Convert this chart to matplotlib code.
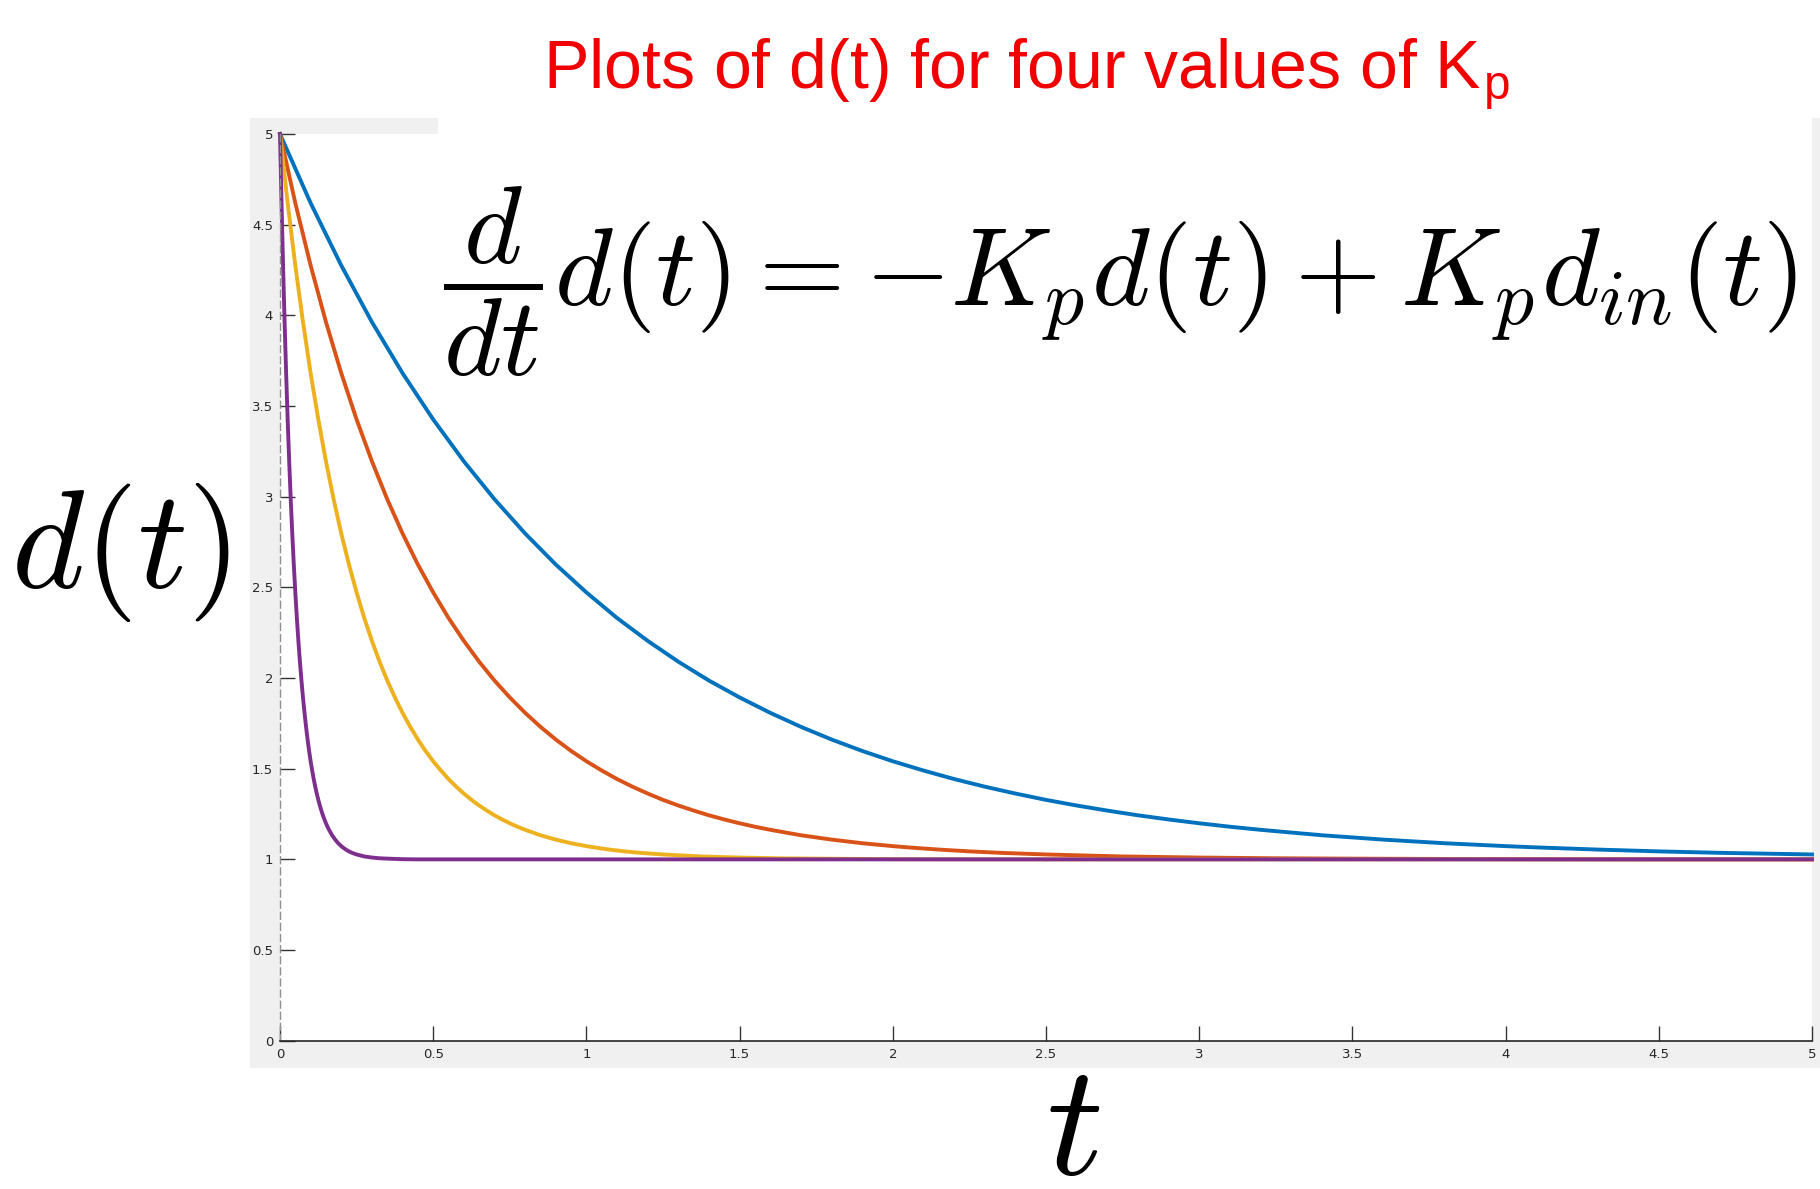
import matplotlib
matplotlib.use("Agg")
import matplotlib.pyplot as plt
from matplotlib.patches import Rectangle

# ---- data (d(t) for Kp = 1, 2, 4, 20) ----
t_kp1 = [0.0, 0.1, 0.2, 0.3, 0.4, 0.5, 0.6, 0.7, 0.8, 0.9, 1.0, 1.1, 1.2, 1.3, 1.4,
         1.5, 1.6, 1.7, 1.8, 1.9, 2.0, 2.1, 2.2, 2.3, 2.4, 2.5, 2.6, 2.7, 2.8, 2.9,
         3.0, 3.1, 3.2, 3.3, 3.4, 3.5, 3.6, 3.7, 3.8, 3.9, 4.0, 4.1, 4.2, 4.3, 4.4,
         4.5, 4.6, 4.7, 4.8, 4.9, 5.0]
d_kp1 = [5.000, 4.619, 4.275, 3.963, 3.681, 3.426, 3.195, 2.986, 2.797, 2.626, 2.472,
         2.331, 2.205, 2.090, 1.986, 1.893, 1.808, 1.731, 1.661, 1.598, 1.541,
         1.490, 1.443, 1.401, 1.363, 1.328, 1.297, 1.269, 1.243, 1.220, 1.199,
         1.180, 1.163, 1.148, 1.133, 1.121, 1.109, 1.099, 1.089, 1.081, 1.073,
         1.066, 1.060, 1.054, 1.049, 1.044, 1.040, 1.036, 1.033, 1.030, 1.027]

t_kp2 = [0, 0.05, 0.1, 0.15, 0.2, 0.25, 0.3, 0.35, 0.4, 0.45, 0.5, 0.55, 0.6, 0.65,
         0.7, 0.75, 0.8, 0.85, 0.9, 0.95, 1.0, 1.05, 1.1, 1.15, 1.2, 1.25, 1.3, 1.35,
         1.4, 1.45, 1.5, 1.55, 1.6, 1.65, 1.7, 1.75, 1.8, 1.85, 1.9, 1.95, 2.0, 2.05,
         2.1, 2.15, 2.2, 2.25, 2.3, 2.35, 2.4, 2.45, 2.5,
         2.75, 3.0, 3.25, 3.5, 4.0, 4.5, 5.0]
d_kp2 = [5.000, 4.619, 4.275, 3.963, 3.681, 3.426, 3.195, 2.986, 2.797, 2.626, 2.472,
         2.331, 2.205, 2.090, 1.986, 1.893, 1.808, 1.731, 1.661, 1.598, 1.541,
         1.490, 1.443, 1.401, 1.363, 1.328, 1.297, 1.269, 1.243, 1.220, 1.199,
         1.180, 1.163, 1.148, 1.133, 1.121, 1.109, 1.099, 1.089, 1.081, 1.073,
         1.066, 1.060, 1.054, 1.049, 1.044, 1.040, 1.036, 1.033, 1.030, 1.027,
         1.016, 1.010, 1.006, 1.004, 1.001, 1.000, 1.000]

t_kp4 = [0, 0.025, 0.05, 0.075, 0.1, 0.125, 0.15, 0.175, 0.2, 0.225, 0.25, 0.275,
         0.3, 0.325, 0.35, 0.375, 0.4, 0.425, 0.45, 0.475, 0.5, 0.525, 0.55, 0.575,
         0.6, 0.625, 0.65, 0.675, 0.7, 0.725, 0.75, 0.775, 0.8, 0.825, 0.85, 0.875,
         0.9, 0.925, 0.95, 0.975, 1.0, 1.025, 1.05, 1.075, 1.1, 1.125, 1.15, 1.175,
         1.2, 1.225, 1.25,
         1.375, 1.5, 1.625, 1.75, 2.0, 2.25, 2.5, 5.0]
d_kp4 = [5.000, 4.619, 4.275, 3.963, 3.681, 3.426, 3.195, 2.986, 2.797, 2.626, 2.472,
         2.331, 2.205, 2.090, 1.986, 1.893, 1.808, 1.731, 1.661, 1.598, 1.541,
         1.490, 1.443, 1.401, 1.363, 1.328, 1.297, 1.269, 1.243, 1.220, 1.199,
         1.180, 1.163, 1.148, 1.133, 1.121, 1.109, 1.099, 1.089, 1.081, 1.073,
         1.066, 1.060, 1.054, 1.049, 1.044, 1.040, 1.036, 1.033, 1.030, 1.027,
         1.016, 1.010, 1.006, 1.004, 1.001, 1.000, 1.000, 1.000]

t_kp20 = [0, 0.005, 0.01, 0.015, 0.02, 0.025, 0.03, 0.035, 0.04, 0.045, 0.05, 0.055,
          0.06, 0.065, 0.07, 0.075, 0.08, 0.085, 0.09, 0.095, 0.1, 0.105, 0.11, 0.115,
          0.12, 0.125, 0.13, 0.135, 0.14, 0.145, 0.15, 0.155, 0.16, 0.165, 0.17, 0.175,
          0.18, 0.185, 0.19, 0.195, 0.2, 0.205, 0.21, 0.215, 0.22, 0.225, 0.23, 0.235,
          0.24, 0.245, 0.25,
          0.275, 0.3, 0.325, 0.35, 0.4, 0.45, 0.5, 5.0]
d_kp20 = [5.000, 4.619, 4.275, 3.963, 3.681, 3.426, 3.195, 2.986, 2.797, 2.626, 2.472,
          2.331, 2.205, 2.090, 1.986, 1.893, 1.808, 1.731, 1.661, 1.598, 1.541,
          1.490, 1.443, 1.401, 1.363, 1.328, 1.297, 1.269, 1.243, 1.220, 1.199,
          1.180, 1.163, 1.148, 1.133, 1.121, 1.109, 1.099, 1.089, 1.081, 1.073,
          1.066, 1.060, 1.054, 1.049, 1.044, 1.040, 1.036, 1.033, 1.030, 1.027,
          1.016, 1.010, 1.006, 1.004, 1.001, 1.000, 1.000, 1.000]

series = [(t_kp1, d_kp1), (t_kp2, d_kp2), (t_kp4, d_kp4), (t_kp20, d_kp20)]
colors = ["#0072BD", "#D95319", "#EDB120", "#7E2F8E"]

xticks = [0, 0.5, 1, 1.5, 2, 2.5, 3, 3.5, 4, 4.5, 5]
xticklabels = ["0", "0.5", "1", "1.5", "2", "2.5", "3", "3.5", "4", "4.5", "5"]
yticks = [0, 0.5, 1, 1.5, 2, 2.5, 3, 3.5, 4, 4.5, 5]
yticklabels = ["0", "0.5", "1", "1.5", "2", "2.5", "3", "3.5", "4", "4.5", "5"]

title_text = "Plots of d(t) for four values of K$_\\mathregular{p}$"
equation = r"$\dfrac{d}{dt}d(t) = -K_p d(t) + K_p d_{in}(t)$"

plt.rcParams["mathtext.fontset"] = "cm"

W, H = 1820, 1189
fig = plt.figure(figsize=(W / 100, H / 100), dpi=100)
fig.patch.set_facecolor("white")

# MATLAB grey figure panel
fig.add_artist(Rectangle((250 / W, 1 - 1068 / H), (W - 250) / W, (1068 - 118) / H,
                         transform=fig.transFigure, facecolor="#f0f0f0",
                         edgecolor="none", zorder=0))
# white pasted region over the top strip
fig.add_artist(Rectangle((438 / W, 1 - 135 / H), (1812 - 438) / W, (135 - 100) / H,
                         transform=fig.transFigure, facecolor="white",
                         edgecolor="none", zorder=0.5))

ax = fig.add_axes([280 / W, 1 - 1040.7 / H, (1812 - 280) / W, (1040.7 - 134) / H])
ax.set_facecolor("white")
ax.set_zorder(1)

for (ts, ys), c in zip(series, colors):
    ax.plot(ts, ys, color=c, lw=2.8, solid_joinstyle="round", clip_on=False)

ax.set_xlim(0, 5)
ax.set_ylim(0, 5)
ax.set_xticks(xticks)
ax.set_xticklabels(xticklabels)
ax.set_yticks(yticks)
ax.set_yticklabels(yticklabels)
ax.tick_params(direction="in", length=11, width=1, color="#333333",
               labelsize=9.5, labelcolor="#262626", pad=5)
for s in ("top", "right"):
    ax.spines[s].set_visible(False)
ax.spines["bottom"].set_color("#262626")
ax.spines["bottom"].set_linewidth(1.2)
ax.spines["left"].set_color("#909090")
ax.spines["left"].set_linewidth(1.0)
ax.spines["left"].set_linestyle((0, (5, 3)))

fig.text(1026 / W, 1 - 88 / H, title_text, color="#F00000", fontsize=49,
         family=["Liberation Sans", "DejaVu Sans"],
         ha="center", va="baseline")

fig.text(1120 / W, 1 - 282 / H, equation, fontsize=80, ha="center", va="center",
         color="black", zorder=3)

fig.text(120 / W, 1 - 1.0 * 553 / H, r"$d(t)$", fontsize=100, ha="center", va="center")
fig.text(1073 / W, 1 - 1174 / H, r"$t$", fontsize=114, ha="center", va="baseline")

fig.savefig("out.png", dpi=100, facecolor="white")
